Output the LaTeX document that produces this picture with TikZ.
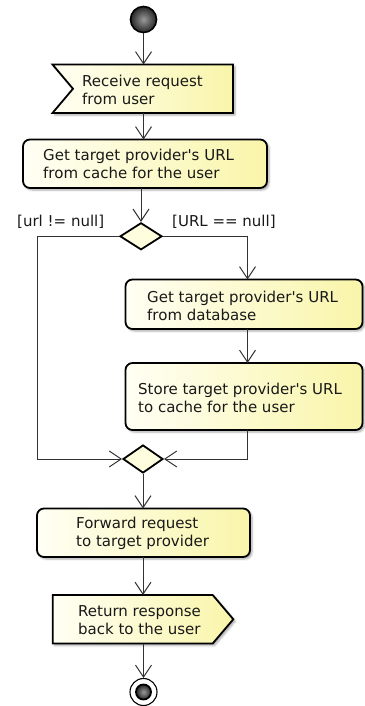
\documentclass[tikz,border=0pt]{standalone}
\usepackage{fontspec}
\setmainfont{DejaVu Sans}[Ligatures=TeXOff]
\usetikzlibrary{arrows.meta,shapes.geometric,shadows.blur}

\definecolor{boxL}{RGB}{255,255,244}
\definecolor{boxR}{RGB}{249,245,170}
\definecolor{gateFill}{RGB}{254,254,222}
\definecolor{lineC}{RGB}{50,50,50}
% strut giving every text line the same height and depth
\newcommand\lh{\rule[-3pt]{0pt}{14pt}}

\begin{document}
\begin{tikzpicture}[x=1pt,y=-1pt,
  font=\fontsize{15}{18}\selectfont,
  actshade/.style={left color=boxL, right color=boxR, draw=black,
    line width=1.8pt, line join=miter,
    blur shadow={shadow xshift=2pt, shadow yshift=-2pt,
      shadow blur radius=2pt, shadow opacity=35}},
  actbox/.style={actshade, rectangle, rounded corners=7pt, inner sep=0, outer sep=0},
  framebox/.style={rectangle, draw=none, inner sep=0, outer sep=0},
  txt/.style={inner sep=0, align=left, anchor=west, text=black!90},
  guard/.style={inner sep=0, anchor=base west, text=black!90},
  gate/.style={diamond, draw=black, line width=1.8pt, fill=gateFill, inner sep=0},
  flow/.style={draw=lineC, line width=1pt,
    -{Straight Barb[length=12pt,width=16pt,line width=1pt]}},
]
\useasboundingbox (0,0) rectangle (364,706);

% start and end states
\node[circle, minimum size=26pt, inner sep=0, draw=black, line width=1.6pt,
      inner color=black!40, outer color=black!85] (start) at (143.5,19.5) {};
\node[circle, minimum size=27pt, inner sep=0, draw=black, line width=1.1pt,
      fill=white] (stop) at (143.5,692) {};
\node[circle, minimum size=15pt, inner sep=0, draw=black, line width=1.8pt,
      inner color=black!40, outer color=black!85] (stopdot) at (stop.center) {};

% receive signal (notched on the left)
\node[framebox, minimum width=180.5pt, minimum height=48.5pt] (recv) at (142.75,88.75) {};
\path[actshade] (recv.north west) -- (recv.north east) -- (recv.south east)
  -- (recv.south west) -- ([xshift=20.5pt]recv.west) -- cycle;
\node[txt] (recvtxt) at (82,91.5) {\lh Receive request\\\lh from user};

% actions
\node[actbox, minimum width=244pt, minimum height=48.5pt] (get) at (145,163.75) {};
\node[txt] (gettxt) at (43,165) {\lh Get target provider's URL\\\lh from cache for the user};

\node[gate, minimum width=42pt, minimum height=27pt] (dec) at (141,236.3) {};
\node[guard] (lblnn) at (17,226) {[url != null]};
\node[guard] (lbln) at (172,226) {[URL == null]};

\node[actbox, minimum width=237pt, minimum height=49.5pt] (db) at (244,304.25) {};
\node[txt] (dbtxt) at (147,307.5) {\lh Get target provider's URL\\\lh from database};

\node[actbox, minimum width=237pt, minimum height=67pt] (store) at (244,396.5) {};
\node[txt] (storetxt) at (138,399) {\lh Store target provider's URL\\\lh to cache for the user};

\node[gate, minimum width=40pt, minimum height=28pt] (merge) at (143,459) {};

\node[actbox, minimum width=213pt, minimum height=48.5pt] (fwd) at (143.5,532.75) {};
\node[txt] (fwdtxt) at (76,533) {\lh Forward request\\\lh to target provider};

% send signal (pointed on the right)
\node[framebox, minimum width=180.6pt, minimum height=48.5pt] (ret) at (143,619.25) {};
\path[actshade] (ret.north west) -- ([xshift=-20.6pt]ret.north east) -- (ret.east)
  -- ([xshift=-20.6pt]ret.south east) -- (ret.south west) -- cycle;
\node[txt] (rettxt) at (78,621) {\lh Return response\\\lh back to the user};

% routing points
\coordinate (lcorner) at (37.5,236.3);
\coordinate (rcol) at (247.5,0);

% control flow
\draw[flow] (start) -- (recv.north -| start);
\draw[flow] (recv.south -| start) -- (get.north -| start);
\draw[flow] (dec.north |- get.south) -- (dec.north);
\draw[flow] (dec.west) -- (lcorner) |- (merge.west);
\draw[flow] (dec.east) -| (rcol |- db.north);
\draw[flow] (rcol |- db.south) -- (rcol |- store.north);
\draw[flow] (rcol |- store.south) |- (merge.east);
\draw[flow] (merge.south) -- (merge.south |- fwd.north);
\draw[flow] (fwd.south -| merge) -- (ret.north -| merge);
\draw[flow] (stop.north |- ret.south) -- (stop.north);
\end{tikzpicture}
\end{document}
